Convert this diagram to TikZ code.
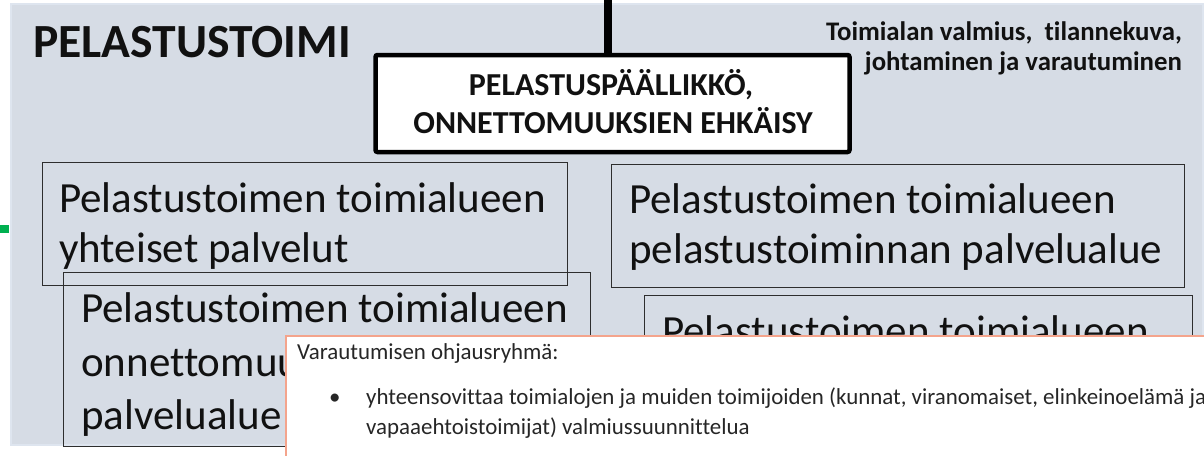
\documentclass[tikz,border=0pt]{standalone}
\usepackage{fontspec}
\setmainfont{Carlito}[Ligatures={NoCommon}]
\definecolor{panel}{HTML}{D6DCE5}
\definecolor{paneledge}{HTML}{DEE5EF}
\definecolor{boxline}{HTML}{2E2E2E}
\definecolor{popline}{HTML}{F4A48C}
\definecolor{greenmark}{HTML}{00B050}
\definecolor{txt}{HTML}{111111}
\definecolor{poptxt}{HTML}{262626}
\tikzset{
  panelbox/.style={rectangle, fill=panel, draw=paneledge, line width=2pt, inner sep=0pt, anchor=north west},
  unitbox/.style={rectangle, draw=boxline, line width=1.3pt, inner sep=0pt, anchor=north west},
  mainbox/.style={rectangle, draw=black, fill=white, line width=4.5pt, rounded corners=2pt, inner sep=0pt},
  popbox/.style={rectangle, draw=popline, fill=white, line width=2pt, inner sep=0pt, anchor=north west},
  bigtxt/.style={anchor=base west, inner sep=0pt, text=txt, font=\fontsize{43}{52}\selectfont},
  maintxt/.style={anchor=base, inner sep=0pt, text=txt, font=\bfseries\fontsize{32}{38}\selectfont},
  sidetxt/.style={anchor=base east, inner sep=0pt, text=txt, font=\bfseries\fontsize{26.8}{30}\selectfont},
  poptext/.style={anchor=base west, inner sep=0pt, text=poptxt, font=\fontsize{22.9}{28}\selectfont},
  connector/.style={draw=black, line width=7.5pt}
}
\begin{document}
\begin{tikzpicture}[x=1pt,y=-1pt]
\useasboundingbox (0,0) rectangle (1204,455);
\clip (0,0) rectangle (1204,455);
% background panel
\node[panelbox, minimum width=1192pt, minimum height=441pt] (panel) at (10,3) {};
% green mark at left edge
\node[rectangle, fill=greenmark, inner sep=0pt, minimum width=9pt, minimum height=8pt, anchor=north west] (gmark) at (0,225) {};
% title
\node[anchor=base west, inner sep=0pt, text=txt, font=\bfseries\fontsize{47.6}{56}\selectfont] (title) at (33,57) {PELASTUSTOIMI};
% side text
\node[sidetxt] (side1) at (1182,40) {Toimialan valmius,\ \ tilannekuva,};
\node[sidetxt] (side2) at (1182,70) {johtaminen ja varautuminen};
% main box and connector
\node[mainbox, minimum width=474pt, minimum height=97pt] (main) at (612.5,103.5) {};
\coordinate (vtop) at (608,0);
\draw[connector] (vtop) -- (vtop |- main.north);
\node[maintxt] (main1) at (611,95) {PELASTUSPÄÄLLIKKÖ,};
\node[maintxt] (main2) at (613,133) {ONNETTOMUUKSIEN EHKÄISY};
% unit boxes
\node[unitbox, minimum width=525pt, minimum height=123pt] (b1) at (42,162) {};
\node[bigtxt] (b1t1) at (59,212) {Pelastustoimen toimialueen};
\node[bigtxt] (b1t2) at (59,262) {yhteiset palvelut};
\node[unitbox, minimum width=527pt, minimum height=174pt] (b2) at (63,272) {};
\node[bigtxt] (b2t1) at (81,322) {Pelastustoimen toimialueen};
\node[bigtxt] (b2t2) at (81,376) {onnettomuu};
\node[bigtxt] (b2t3) at (81,429) {palvelualue};
\node[unitbox, minimum width=573pt, minimum height=123pt] (b3) at (611,164) {};
\node[bigtxt] (b3t1) at (629,213) {Pelastustoimen toimialueen};
\node[bigtxt] (b3t2) at (629,263) {pelastustoiminnan palvelualue};
\node[unitbox, minimum width=548pt, minimum height=170pt] (b4) at (644,295) {};
\node[bigtxt] (b4t1) at (662,345) {Pelastustoimen toimialueen};
% popup
\node[popbox, minimum width=960pt, minimum height=160pt] (pop) at (285,335) {};
\node[poptext] (p1) at (297,359) {Varautumisen ohjausryhmä:};
\node[poptext] (pbul) at (329,404) {•};
\node[poptext] (p2) at (366,404) {yhteensovittaa toimialojen ja muiden toimijoiden (kunnat, viranomaiset, elinkeinoelämä ja};
\node[poptext] (p3) at (366,434) {vapaaehtoistoimijat) valmiussuunnittelua};
\end{tikzpicture}
\end{document}
